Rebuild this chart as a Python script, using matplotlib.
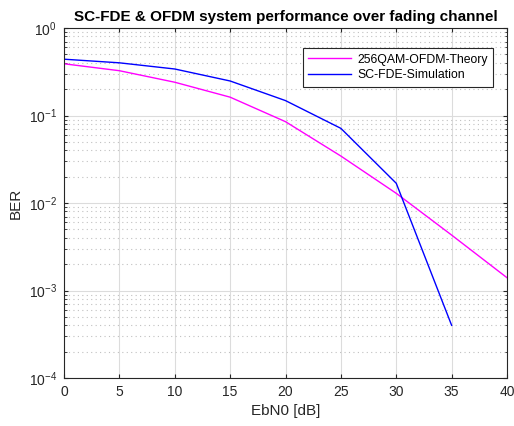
import numpy as np
import matplotlib
matplotlib.use('Agg')
from matplotlib import pyplot as plt
from matplotlib.ticker import LogLocator, NullFormatter

# EbN0 points [dB]
ebn0_theory = [0, 5, 10, 15, 20, 25, 30, 35, 40]
ber_theory = [0.39, 0.325, 0.24, 0.162, 0.085, 0.0344, 0.0129, 0.0043, 0.0014]

ebn0_sim = [0, 5, 10, 15, 20, 25, 30, 35]
ber_sim = [0.44, 0.40, 0.34, 0.248, 0.148, 0.0713, 0.0168, 0.0004]

x_ticks = [0, 5, 10, 15, 20, 25, 30, 35, 40]
y_ticks = [1e-4, 1e-3, 1e-2, 1e-1, 1e0]
y_labels = ['$10^{-4}$', '$10^{-3}$', '$10^{-2}$', '$10^{-1}$', '$10^{0}$']

plt.rcParams['font.family'] = ['Liberation Sans', 'DejaVu Sans']
plt.rcParams['mathtext.fontset'] = 'custom'
plt.rcParams['mathtext.rm'] = 'Liberation Sans'
plt.rcParams['mathtext.it'] = 'Liberation Sans'
AX_COL = '#262626'

fig = plt.figure(figsize=(5.14, 4.26), dpi=100)
ax = fig.add_axes([64/514, 1-378/426, (507-64)/514, (378-28)/426])

ax.semilogy(ebn0_theory, ber_theory, color='#ff00ff', lw=1.0, label='256QAM-OFDM-Theory')
ax.semilogy(ebn0_sim, ber_sim, color='#0000ff', lw=1.0, label='SC-FDE-Simulation')

ax.set_xlim(0, 40)
ax.set_ylim(1e-4, 1)
ax.set_xticks(x_ticks)
ax.set_yticks(y_ticks)
ax.set_yticklabels(y_labels)
ax.yaxis.set_minor_locator(LogLocator(base=10, subs=np.arange(2, 10)))
ax.yaxis.set_minor_formatter(NullFormatter())

ax.grid(True, which='major', color='#dcdcdc', lw=0.8, ls='-')
ax.grid(True, which='minor', axis='y', color='#c0c0c0', lw=0.8, ls=(0, (1, 3)))
ax.set_axisbelow(True)

ax.tick_params(which='both', direction='in', top=True, right=True, colors=AX_COL,
               labelsize=10, length=3, pad=5)
ax.tick_params(which='minor', length=1.8)
for s in ax.spines.values():
    s.set_color(AX_COL)
    s.set_linewidth(0.8)

ax.set_xlabel('EbN0 [dB]', fontsize=11, color=AX_COL, labelpad=4)
ax.set_ylabel('BER', fontsize=11, color=AX_COL, labelpad=4)
ax.set_title('SC-FDE & OFDM system performance over fading channel',
             fontsize=11, fontweight='bold', pad=5)

leg = ax.legend(loc='upper right', bbox_to_anchor=(0.983, 0.96), fontsize=8.8,
                fancybox=False, framealpha=1, edgecolor=AX_COL, borderpad=0.45,
                handlelength=3.5, labelspacing=0.3, handletextpad=0.5)
leg.get_frame().set_linewidth(0.8)

plt.savefig('out.png', dpi=100)
